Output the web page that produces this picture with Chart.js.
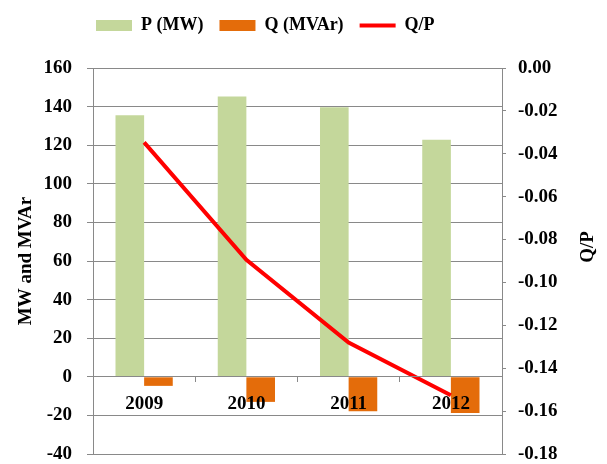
<!DOCTYPE html>
<html><head><meta charset="utf-8">
<script src="https://cdn.jsdelivr.net/npm/chart.js@4"></script>
<style>html,body{margin:0;padding:0;background:#fff}#wrap{width:607px;height:464px}</style>
</head><body><div id="wrap"><canvas id="c" width="607" height="464"></canvas></div>
<script>
const categories = ['2009', '2010', '2011', '2012'];
const pValues = [135.5, 145.2, 139.6, 122.8];
const qValues = [-4.7, -13.0, -17.9, -18.8];
const qpValues = [-0.0347, -0.0894, -0.128, -0.1526];
const seriesNames = ['P (MW)', 'Q (MVAr)', 'Q/P'];
const leftTitle = 'MW and MVAr';
const rightTitle = 'Q/P';

const GRID = '#898989';
const FONT = 'Liberation Serif';
const LEG_PAD = 16;

const adjust = {
  id: 'adjust',
  afterLayout(chart) {
    const lg = chart.legend;
    const dx = 96 - (lg.left + LEG_PAD);
    lg.left += dx; lg.right += dx;
    const dy = (16.5 - LEG_PAD) - lg.top;
    lg.top += dy; lg.bottom += dy;
  },
  afterDraw(chart) {
    const ctx = chart.ctx;
    ctx.save();
    ctx.translate(588, (chart.chartArea.top + chart.chartArea.bottom) / 2 - 14);
    ctx.rotate(-Math.PI / 2);
    ctx.font = 'bold 19px "' + FONT + '"';
    ctx.textAlign = 'center';
    ctx.textBaseline = 'middle';
    ctx.fillStyle = '#000';
    ctx.fillText(rightTitle, 0, 0);
    ctx.restore();
  }
};

new Chart(document.getElementById('c'), {
  data: {
    labels: categories,
    datasets: [
      { type: 'bar', label: seriesNames[0], data: pValues, backgroundColor: '#C4D79B', yAxisID: 'y', order: 2, pointStyle: 'rect' },
      { type: 'bar', label: seriesNames[1], data: qValues, backgroundColor: '#E46C0A', yAxisID: 'y', order: 2, pointStyle: 'rect' },
      { type: 'line', label: seriesNames[2], data: qpValues, borderColor: '#FF0000', backgroundColor: '#FF0000', borderWidth: 4, pointRadius: 0, tension: 0, yAxisID: 'y1', order: 1, pointStyle: 'line' }
    ]
  },
  options: {
    responsive: false,
    devicePixelRatio: 1,
    animation: false,
    layout: { padding: { top: 24, bottom: 0, left: 0, right: 0 } },
    datasets: { bar: { barPercentage: 1, categoryPercentage: 0.56 } },
    plugins: {
      tooltip: { enabled: false },
      legend: {
        position: 'top',
        align: 'start',
        labels: {
          usePointStyle: true,
          pointStyleWidth: 36,
          boxHeight: 11,
          padding: LEG_PAD,
          color: '#000',
          font: { family: FONT, size: 18, weight: 'bold' },
          sort: (a, b) => a.datasetIndex - b.datasetIndex
        }
      }
    },
    scales: {
      x: {
        type: 'category',
        position: { y: 0 },
        offset: true,
        grid: { offset: true, drawOnChartArea: false, drawTicks: true, tickLength: 5, color: GRID, z: 1 },
        border: { color: GRID, z: 1 },
        ticks: { z: 1, color: '#000', padding: 11, maxRotation: 0, font: { family: FONT, size: 19, weight: 'bold' } },
        afterFit: s => { s.height = 0; }
      },
      y: {
        position: 'left',
        min: -40, max: 160,
        ticks: { stepSize: 20, color: '#000', padding: 15, font: { family: FONT, size: 19, weight: 'bold', lineHeight: 1.0 } },
        grid: { color: GRID, tickLength: 6 },
        border: { color: GRID },
        title: { display: true, text: leftTitle, color: '#000', padding: { top: 15, bottom: 0 }, font: { family: FONT, size: 19, weight: 'bold' } },
        afterFit: s => { s.width = 93; s.paddingTop = 10; s.paddingBottom = 10; }
      },
      y1: {
        position: 'right',
        min: -0.18, max: 0,
        ticks: { stepSize: 0.02, color: '#000', padding: 12, callback: v => Number(v).toFixed(2), font: { family: FONT, size: 19, weight: 'bold', lineHeight: 1.0 } },
        grid: { drawOnChartArea: false, color: GRID, tickLength: 4 },
        border: { color: GRID },
        afterFit: s => { s.width = 105; s.paddingTop = 10; s.paddingBottom = 10; }
      }
    }
  },
  plugins: [adjust]
});
</script>
</body></html>
